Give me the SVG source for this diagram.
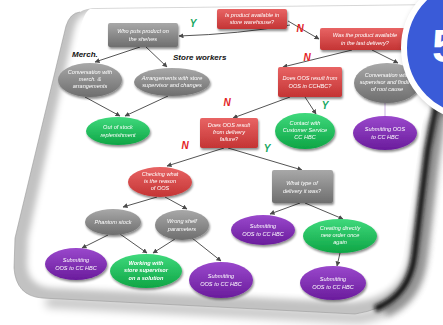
<svg xmlns="http://www.w3.org/2000/svg" width="443" height="325" viewBox="0 0 443 325">
<defs>
<filter id="blur5" x="-20%" y="-20%" width="140%" height="140%"><feGaussianBlur stdDeviation="5"/></filter>
<filter id="blur3" x="-20%" y="-20%" width="140%" height="140%"><feGaussianBlur stdDeviation="3"/></filter>
<filter id="blur2" x="-20%" y="-20%" width="140%" height="140%"><feGaussianBlur stdDeviation="2.2"/></filter>
<filter id="sh" x="-30%" y="-30%" width="160%" height="170%"><feGaussianBlur in="SourceAlpha" stdDeviation="1.2"/><feOffset dx="1" dy="1.5"/><feComponentTransfer><feFuncA type="linear" slope="0.45"/></feComponentTransfer><feMerge><feMergeNode/><feMergeNode in="SourceGraphic"/></feMerge></filter>
<linearGradient id="gGray" x1="0" y1="0" x2="0" y2="1"><stop offset="0" stop-color="#a8a8a8"/><stop offset="1" stop-color="#6e6e6e"/></linearGradient>
<linearGradient id="gRed" x1="0" y1="0" x2="0" y2="1"><stop offset="0" stop-color="#e86464"/><stop offset="1" stop-color="#c43434"/></linearGradient>
<linearGradient id="gGreen" x1="0" y1="0" x2="0" y2="1"><stop offset="0" stop-color="#3fd97c"/><stop offset="1" stop-color="#0ea545"/></linearGradient>
<linearGradient id="gPurple" x1="0" y1="0" x2="0" y2="1"><stop offset="0" stop-color="#9a48cc"/><stop offset="1" stop-color="#6a1c9c"/></linearGradient>
<marker id="arr" viewBox="0 0 10 10" refX="9" refY="5" markerWidth="5" markerHeight="5" orient="auto-start-reverse"><path d="M0,0 L10,5 L0,10 Z" fill="#4a4a4a"/></marker>
<style>
.ln{fill:none;stroke:#555;stroke-width:1;marker-end:url(#arr)}
.t{font-family:"Liberation Sans",Arial,sans-serif;font-style:italic;font-size:5.6px;fill:#fff;text-anchor:middle}
.tb{font-weight:bold}
.yn{font-family:"Liberation Sans",Arial,sans-serif;font-style:italic;font-weight:bold;font-size:10px;text-anchor:middle}
.y{fill:#17a862}.n{fill:#e3231f}
.lab{font-family:"Liberation Sans",Arial,sans-serif;font-style:italic;font-weight:bold;font-size:8px;fill:#111}
.gray{fill:url(#gGray)}.red{fill:url(#gRed)}.green{fill:url(#gGreen)}.purple{fill:url(#gPurple)}
</style>
</defs>
<rect width="443" height="325" fill="#fff"/>
<!-- card -->
<g id="card">
<path d="M443,90 L432,120 L414,262 Q407,306 355,314 L42,298" fill="none" stroke="#000" stroke-width="10" opacity="0.25" filter="url(#blur5)" transform="translate(4,4)"/>
<path d="M80,12 Q86,8 98,8 L443,4 L443,92 L432,125 L414,262 Q407,306 355,314 L42,298 Q16,296 14,268 L15,238 L66,26 Q70,13 80,12 Z" fill="#c2c2c2"/>
<path d="M443,92 L432,125 L414,262 Q407,306 355,314 L42,298 Q16,296 14,268 L15,238 L66,26 Q70,13 80,12" fill="none" stroke="#9a9a9a" stroke-width="0.6"/>
<path d="M86,14 Q90,10 100,10 L443,6 L443,92 L426,125 L408,258 Q400,298 352,302 L52,288 Q28,286 27,264 L28,238 L74,30 Q77,16 86,14 Z" fill="#fff" filter="url(#blur3)"/>
<path d="M90,9 L443,5 L443,40 L422,125 L403,255 Q396,292 350,296 L60,282 Q38,280 38,262 L40,238 L80,30 Q84,12 90,9 Z" fill="#fff"/>
<path d="M438,100 L428,150 L415,255 Q410,296 375,309" fill="none" stroke="#111" stroke-width="7" filter="url(#blur2)"/>
<path d="M443,100 L434,160 L423,255 Q418,300 385,312" fill="none" stroke="#666" stroke-width="10" opacity="0.6" filter="url(#blur3)"/>
</g>
<!-- connectors -->
<g id="connectors">
<path class="ln" d="M290,25 Q240,34 179,36"/>
<path class="ln" d="M288,21 L319,39"/>
<path class="ln" d="M140,47 L95,62"/>
<path class="ln" d="M146,47 L167,67"/>
<path class="ln" d="M85,97 L120,116"/>
<path class="ln" d="M168,96 L125,116"/>
<path class="ln" d="M352,50 L283,67"/>
<path class="ln" d="M372,50 L398,63"/>
<path class="ln" d="M305,97 L316,114"/>
<path d="M385,103 L385,117" fill="none" stroke="#b99ad8" stroke-width="0.8"/>
<path class="ln" d="M290,97 L233,118"/>
<path class="ln" d="M224,148 L167,166"/>
<path class="ln" d="M228,148 L302,170"/>
<path class="ln" d="M157,197 L123,207"/>
<path class="ln" d="M165,197 L187,209"/>
<path class="ln" d="M108,235 L82,248"/>
<path class="ln" d="M120,234 L147,253"/>
<path class="ln" d="M175,239 L153,253"/>
<path class="ln" d="M192,238 L221,261"/>
<path class="ln" d="M300,203 L270,214"/>
<path class="ln" d="M305,203 L343,219"/>
<path class="ln" d="M340,253 L337,266"/>
</g>
<!-- labels -->
<g id="labels">
<text class="yn y" x="193" y="27">Y</text>
<text class="yn n" x="300" y="32">N</text>
<text class="yn n" x="307" y="61">N</text>
<text class="yn y" x="325" y="109">Y</text>
<text class="yn n" x="227" y="106">N</text>
<text class="yn n" x="185" y="149">N</text>
<text class="yn y" x="267" y="152">Y</text>
<text class="lab" x="72" y="57">Merch.</text>
<text class="lab" x="173" y="60">Store workers</text>
</g>
<!-- nodes -->
<g id="n1" filter="url(#sh)"><rect class="gray" x="108" y="23" width="70" height="24" rx="2"/><text class="t" x="143" y="33">Who puts product on</text><text class="t" x="143" y="41">the shelves</text></g>
<g id="n2" filter="url(#sh)"><rect class="red" x="217" y="9" width="70" height="20" rx="2"/><text class="t" x="252" y="17">Is product available in</text><text class="t" x="252" y="24">store warehouse?</text></g>
<g id="n3" filter="url(#sh)"><rect class="red" x="320" y="28" width="95" height="22" rx="2"/><text class="t" x="365" y="37">Was the product available</text><text class="t" x="365" y="45">in the last delivery?</text></g>
<g id="n4" filter="url(#sh)"><rect class="red" x="278" y="67" width="64" height="30" rx="2"/><text class="t" x="310" y="80">Does OOS result from</text><text class="t" x="310" y="88">OOS in CCHBC?</text></g>
<g id="n5" filter="url(#sh)"><ellipse class="gray" cx="387" cy="83" rx="33" ry="20"/><text class="t" x="387" y="77">Conversation with</text><text class="t" x="387" y="84">supervisor and finding</text><text class="t" x="387" y="91">of root cause</text></g>
<g id="n6" filter="url(#sh)"><ellipse class="green" cx="305" cy="131" rx="30" ry="18"/><text class="t" x="305" y="125">Contact with</text><text class="t" x="305" y="132">Customer Service</text><text class="t" x="305" y="139">CC HBC</text></g>
<g id="n7" filter="url(#sh)"><ellipse class="purple" cx="385" cy="133" rx="32" ry="17"/><text class="t" x="385" y="131">Submitting OOS</text><text class="t" x="385" y="139">to CC HBC</text></g>
<g id="n8" filter="url(#sh)"><rect class="red" x="200" y="118" width="58" height="30" rx="2"/><text class="t" x="229" y="127">Does OOS result</text><text class="t" x="229" y="134">from delivery</text><text class="t" x="229" y="141">failure?</text></g>
<g id="n9" filter="url(#sh)"><ellipse class="gray" cx="90" cy="80" rx="32" ry="17"/><text class="t" x="90" y="74">Conversation with</text><text class="t" x="90" y="81">merch. &amp;</text><text class="t" x="90" y="88">arrangements</text></g>
<g id="n10" filter="url(#sh)"><ellipse class="gray" cx="172" cy="82" rx="38" ry="14"/><text class="t" x="172" y="80">Arrangements with store</text><text class="t" x="172" y="87">supervisor and changes</text></g>
<g id="n11" filter="url(#sh)"><ellipse class="green" cx="118" cy="131" rx="32" ry="14"/><text class="t" x="118" y="129">Out of stock</text><text class="t" x="118" y="137">replenishment</text></g>
<g id="n12" filter="url(#sh)"><ellipse class="red" cx="160" cy="182" rx="32" ry="15"/><text class="t" x="160" y="176">Checking what</text><text class="t" x="160" y="183">is the reason</text><text class="t" x="160" y="190">of OOS</text></g>
<g id="n13" filter="url(#sh)"><ellipse class="gray" cx="113" cy="222" rx="28" ry="13"/><text class="t" x="113" y="224">Phantom stock</text></g>
<g id="n14" filter="url(#sh)"><ellipse class="gray" cx="182" cy="225" rx="27" ry="15"/><text class="t" x="182" y="223">Wrong shelf</text><text class="t" x="182" y="231">parameters</text></g>
<g id="n15" filter="url(#sh)"><ellipse class="purple" cx="76" cy="264" rx="31" ry="16"/><text class="t" x="76" y="262">Submitting</text><text class="t" x="76" y="270">OOS to CC HBC</text></g>
<g id="n16" filter="url(#sh)"><ellipse class="green" cx="146" cy="271" rx="36" ry="17"/><text class="t tb" x="146" y="265">Working with</text><text class="t tb" x="146" y="272">store supervisor</text><text class="t tb" x="146" y="280">on a solution</text></g>
<g id="n17" filter="url(#sh)"><ellipse class="purple" cx="221" cy="280" rx="32" ry="18"/><text class="t" x="221" y="278">Submitting</text><text class="t" x="221" y="286">OOS to CC HBC</text></g>
<g id="n18" filter="url(#sh)"><rect class="gray" x="272" y="170" width="61" height="33" rx="2"/><text class="t" x="302" y="185">What type of</text><text class="t" x="302" y="193">delivery it was?</text></g>
<g id="n19" filter="url(#sh)"><ellipse class="purple" cx="263" cy="230" rx="32" ry="15"/><text class="t" x="263" y="228">Submitting</text><text class="t" x="263" y="236">OOS to CC HBC</text></g>
<g id="n20" filter="url(#sh)"><ellipse class="green" cx="340" cy="236" rx="37" ry="17"/><text class="t" x="340" y="230">Creating directly</text><text class="t" x="340" y="237">new order once</text><text class="t" x="340" y="244">again</text></g>
<g id="n21" filter="url(#sh)"><ellipse class="purple" cx="333" cy="283" rx="33" ry="17"/><text class="t" x="333" y="281">Submitting</text><text class="t" x="333" y="289">OOS to CC HBC</text></g>
<!-- badge -->
<g id="badge">
<circle cx="476" cy="50" r="73" fill="#000" opacity="0.25" filter="url(#blur3)"/>
<circle cx="474" cy="48" r="70" fill="#3a5bd8" stroke="#fff" stroke-width="6"/>
<text x="432" y="62" font-family="Liberation Sans, Arial, sans-serif" font-weight="bold" font-size="47" fill="#fff">5</text>
</g>
</svg>
